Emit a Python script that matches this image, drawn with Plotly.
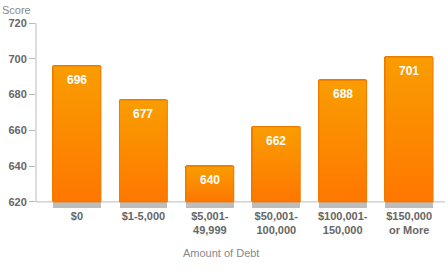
import plotly.graph_objects as go

categories = ["$0", "$1-5,000", "$5,001-<br>49,999", "$50,001-<br>100,000", "$100,001-<br>150,000", "$150,000<br>or More"]
scores = [696, 677, 640, 662, 688, 701]
y_ticks = [620, 640, 660, 680, 700, 720]

x_pos = list(range(len(categories)))
FONT = "Liberation Sans, Arial, sans-serif"
BASE = 620
BAR_W = 0.72

fig = go.Figure()

# orange bars from 620 up to score
fig.add_trace(go.Bar(
    x=x_pos, y=[s - BASE for s in scores], base=BASE, width=BAR_W,
    marker=dict(color="#FC8800", line=dict(color="#EE7A00", width=1), cornerradius=2),
    hoverinfo="skip", showlegend=False,
))
# vertical gradient overlay on each bar (derived from the same data)
for xi, s in zip(x_pos, scores):
    x0, x1 = xi - BAR_W / 2, xi + BAR_W / 2
    fig.add_trace(go.Scatter(
        x=[x0, x0, x1, x1, x0], y=[BASE, s, s, BASE, BASE],
        mode="lines", fill="toself",
        line=dict(color="#EE7A00", width=1),
        fillgradient=dict(type="vertical", colorscale=[[0, "#FF7700"], [1, "#F99D00"]]),
        hoverinfo="skip", showlegend=False,
    ))
# gray foot below the axis
fig.add_trace(go.Bar(
    x=x_pos, y=[3.4] * len(x_pos), base=616.6, width=BAR_W,
    marker=dict(color="#BDBDBD", line=dict(width=0)),
    hoverinfo="skip", showlegend=False,
))

for xi, s in zip(x_pos, scores):
    fig.add_annotation(x=xi, y=s, text=str(s), showarrow=False, yanchor="top", yshift=-5,
                       font=dict(family=FONT, size=12, color="white", weight="bold"))

# axis lines
fig.add_shape(type="line", xref="paper", yref="y", x0=0, x1=1, y0=620, y1=620,
              line=dict(color="#BBBBBB", width=1), layer="below")
fig.add_shape(type="line", xref="paper", yref="y", x0=0, x1=0, y0=620, y1=720,
              line=dict(color="#BBBBBB", width=1))

fig.add_annotation(xref="paper", yref="paper", x=-36/409, y=1, xanchor="left", yanchor="bottom",
                   yshift=5, text="Score", showarrow=False,
                   font=dict(family=FONT, size=11, color="#888888"))
fig.add_annotation(xref="paper", yref="paper", x=(221 - 36) / 409, y=0, xanchor="center", yanchor="middle",
                   yshift=-45, text="Amount of Debt", showarrow=False,
                   font=dict(family=FONT, size=11, color="#888888"))

fig.update_layout(
    width=448, height=273,
    margin=dict(l=36, r=3, t=23, b=65),
    paper_bgcolor="white", plot_bgcolor="white",
    barmode="overlay", bargap=0,
    showlegend=False,
    xaxis=dict(range=[-0.617, 5.54], tickvals=x_pos, ticktext=categories, showgrid=False,
               zeroline=False, showline=False, ticks="",
               tickfont=dict(family=FONT, size=11, color="#666666", weight="bold")),
    yaxis=dict(range=[616.6, 720], tickvals=y_ticks, showgrid=False, zeroline=False, showline=False,
               ticks="outside", ticklen=6, tickcolor="#BBBBBB",
               tickfont=dict(family=FONT, size=11, color="#666666", weight="bold")),
)

fig.write_html("out.html")
